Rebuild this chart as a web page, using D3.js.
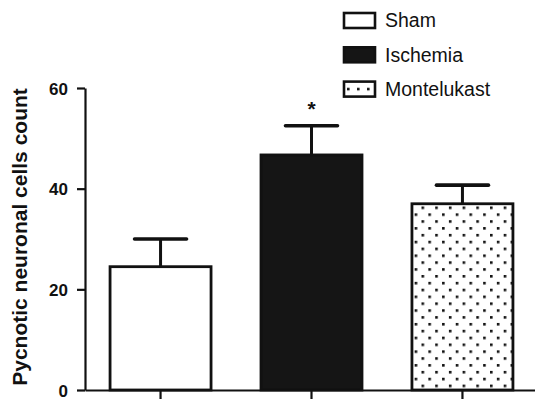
<!DOCTYPE html>
<html>
<head>
<meta charset="utf-8">
<script src="https://cdnjs.cloudflare.com/ajax/libs/d3/7.8.5/d3.min.js"></script>
<style>
  body { margin: 0; background: #fff; }
  text { font-family: "Liberation Sans", Arial, Helvetica, sans-serif; }
</style>
</head>
<body>
<div class="chart"></div>
<script>
// data
var groups = ["Sham", "Ischemia", "Montelukast"];
var means = [24.5, 46.7, 37.0];
var errors = [5.5, 5.8, 3.7];
var yTicks = [0, 20, 40, 60];
var starred = ["Ischemia"];

var svgWidth = 535;
var svgHeight = 400;

var svg = d3.select(".chart").append("svg")
    .attr("width", svgWidth)
    .attr("height", svgHeight);

var ink = "#111";

// dot pattern for Montelukast bar
var defs = svg.append("defs");
var dots = defs.append("pattern")
    .attr("id", "dots")
    .attr("patternUnits", "userSpaceOnUse")
    .attr("x", 421.5)
    .attr("y", 206.5)
    .attr("width", 13.7)
    .attr("height", 13.7);
dots.append("rect").attr("width", 13.7).attr("height", 13.7).attr("fill", "#fff");
dots.append("rect").attr("x", 0).attr("y", 0).attr("width", 2.6).attr("height", 2.6).attr("fill", ink);
dots.append("rect").attr("x", 6.85).attr("y", 6.85).attr("width", 2.6).attr("height", 2.6).attr("fill", ink);

// legend swatch: one row of dots through the middle (coords of the legend item group)
var legDots = defs.append("pattern")
    .attr("id", "legdots")
    .attr("patternUnits", "userSpaceOnUse")
    .attr("x", 347)
    .attr("y", -200)
    .attr("width", 10)
    .attr("height", 400);
legDots.append("rect").attr("width", 10).attr("height", 400).attr("fill", "#fff");
legDots.append("rect").attr("x", 0).attr("y", 198.7).attr("width", 2.6).attr("height", 2.6).attr("fill", ink);

var fills = { "Sham": "#fff", "Ischemia": "#151515", "Montelukast": "url(#dots)" };
var legendFills = { "Sham": "#fff", "Ischemia": "#151515", "Montelukast": "url(#legdots)" };

// scales
var xScale = d3.scaleBand()
    .domain(groups)
    .range([85, 538])
    .paddingInner(0.331)
    .paddingOuter(0.166);

var yScale = d3.scaleLinear()
    .domain([0, 60])
    .range([390, 88]);

var chartGroup = svg.append("g");

// bars
chartGroup.selectAll(".bar")
    .data(groups)
    .enter()
    .append("rect")
    .attr("class", "bar")
    .attr("x", d => xScale(d))
    .attr("y", (d, i) => yScale(means[i]))
    .attr("width", xScale.bandwidth())
    .attr("height", (d, i) => yScale(0) - yScale(means[i]))
    .attr("fill", d => fills[d])
    .attr("stroke", ink)
    .attr("stroke-width", 2.8);

// error bars (upper only)
var capHalf = 26;
chartGroup.selectAll(".err")
    .data(groups)
    .enter()
    .append("line")
    .attr("class", "err")
    .attr("x1", d => xScale(d) + xScale.bandwidth() / 2)
    .attr("x2", d => xScale(d) + xScale.bandwidth() / 2)
    .attr("y1", (d, i) => yScale(means[i]))
    .attr("y2", (d, i) => yScale(means[i] + errors[i]))
    .attr("stroke", ink)
    .attr("stroke-width", 3);

chartGroup.selectAll(".cap")
    .data(groups)
    .enter()
    .append("line")
    .attr("class", "cap")
    .attr("x1", d => xScale(d) + xScale.bandwidth() / 2 - capHalf)
    .attr("x2", d => xScale(d) + xScale.bandwidth() / 2 + capHalf)
    .attr("y1", (d, i) => yScale(means[i] + errors[i]))
    .attr("y2", (d, i) => yScale(means[i] + errors[i]))
    .attr("stroke", ink)
    .attr("stroke-width", 3.6)
    .attr("stroke-linecap", "round");

// significance star
chartGroup.selectAll(".star")
    .data(starred)
    .enter()
    .append("text")
    .attr("class", "star")
    .attr("x", d => xScale(d) + xScale.bandwidth() / 2)
    .attr("y", d => yScale(means[groups.indexOf(d)] + errors[groups.indexOf(d)]) - 10)
    .attr("text-anchor", "middle")
    .attr("font-size", "21px")
    .attr("font-weight", "bold")
    .attr("fill", ink)
    .text("*");

// axes
var leftAxis = d3.axisLeft(yScale)
    .tickValues(yTicks)
    .tickSize(8)
    .tickSizeOuter(0)
    .tickPadding(9);

var bottomAxis = d3.axisBottom(xScale)
    .tickSize(9)
    .tickSizeOuter(0)
    .tickFormat("");

var yAxis = chartGroup.append("g")
    .attr("transform", "translate(85,0)")
    .call(leftAxis);

var xAxis = chartGroup.append("g")
    .attr("transform", "translate(0,390)")
    .call(bottomAxis);

[yAxis, xAxis].forEach(function(ax) {
    ax.select(".domain").attr("stroke", ink).attr("stroke-width", 2.2);
    ax.selectAll(".tick line").attr("stroke", ink).attr("stroke-width", 2.2);
});
yAxis.selectAll(".tick text")
    .attr("fill", ink)
    .attr("font-size", "17px")
    .attr("font-weight", "bold")
    .attr("font-family", "Liberation Sans, Arial, sans-serif")
    .attr("dy", "0.36em");

// y axis title
svg.append("text")
    .attr("transform", "translate(27, 237) rotate(-90)")
    .attr("text-anchor", "middle")
    .attr("font-size", "21px")
    .attr("font-weight", "bold")
    .attr("fill", ink)
    .text("Pycnotic neuronal cells count");

// legend
var legend = svg.append("g");
var legendItems = legend.selectAll(".leg")
    .data(groups)
    .enter()
    .append("g")
    .attr("class", "leg")
    .attr("transform", (d, i) => `translate(0, ${20.5 + i * 34.3})`);

legendItems.append("rect")
    .attr("x", 344)
    .attr("y", -7.5)
    .attr("width", 31)
    .attr("height", 15)
    .attr("fill", d => legendFills[d])
    .attr("stroke", ink)
    .attr("stroke-width", 2.6);

legendItems.append("text")
    .attr("x", 385)
    .attr("y", 0)
    .attr("dy", "0.35em")
    .attr("font-size", "19.5px")
    .attr("fill", ink)
    .text(d => d);
</script>
</body>
</html>
